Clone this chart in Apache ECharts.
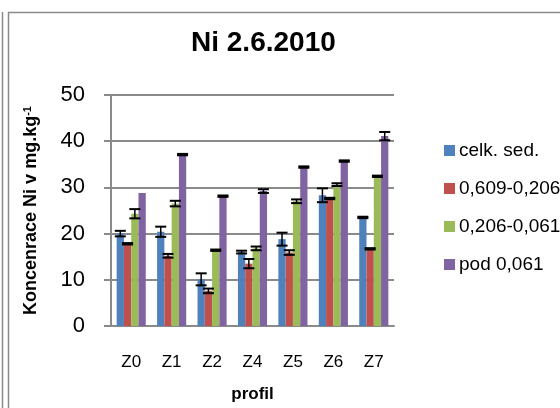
<!DOCTYPE html>
<html>
<head>
<meta charset="utf-8">
<script src="https://cdn.jsdelivr.net/npm/echarts@6/dist/echarts.min.js"></script>
<style>
  html, body { margin: 0; padding: 0; background: #fff; }
  #chart { width: 560px; height: 408px; }
</style>
</head>
<body>
<div id="chart"></div>
<script>
// profily
const categories = ['Z0', 'Z1', 'Z2', 'Z4', 'Z5', 'Z6', 'Z7']
const seriesNames = ['celk. sed.', '0,609-0,206', '0,206-0,061', 'pod 0,061']
const colors = ['#4F81BD', '#C0504D', '#9BBB59', '#8064A2']

// hodnoty Ni (mg/kg)
const celkSed = [20.0, 20.4, 10.1, 16.0, 18.8, 28.3, 23.5]
const frakce1 = [17.8, 15.2, 7.6, 13.5, 15.9, 27.6, 16.7]
const frakce2 = [24.3, 26.5, 16.4, 16.8, 27.0, 30.6, 32.4]
const pod061 = [28.8, 37.1, 28.1, 29.2, 34.4, 35.7, 41.1]

// chybove useky (+/-)
const errCelk = [0.6, 1.1, 1.3, 0.3, 1.4, 1.5, 0.15]
const errFrakce1 = [0.15, 0.4, 0.5, 1.0, 0.5, 0.15, 0.15]
const errFrakce2 = [1.0, 0.6, 0.15, 0.4, 0.4, 0.3, 0.15]
const errPod = [0, 0.15, 0.15, 0.4, 0.15, 0.15, 0.9]

const values = [celkSed, frakce1, frakce2, pod061]
const errors = [errCelk, errFrakce1, errFrakce2, errPod]

const font = 'Liberation Sans, Arial, sans-serif'
const grey = '#8a8a8a'
const catGap = 0.28

let myChart = echarts.init(document.getElementById('chart'))

let series = []
values.forEach((v, s) => {
  series.push({
    name: seriesNames[s],
    type: 'bar',
    data: v,
    barGap: 0,
    barCategoryGap: catGap * 100 + '%',
    itemStyle: { color: colors[s] },
    z: 2
  })
})
// chybove useky jako custom serie
values.forEach((v, s) => {
  series.push({
    type: 'custom',
    silent: true,
    z: 5,
    data: v.map((val, i) => [i, val, errors[s][i]]),
    renderItem: (params, api) => {
      let err = api.value(2)
      if (!err) return null
      let i = api.value(0)
      let val = api.value(1)
      let catW = api.size([1, 0])[0]
      let groupW = catW * (1 - catGap)
      let barW = groupW / 4
      let off = -groupW / 2 + (s + 0.5) * barW
      let hi = api.coord([i, val + err])
      let lo = api.coord([i, val - err])
      let x = hi[0] + off
      let hw = 5.5
      let style = { stroke: '#000', lineWidth: 2 }
      return {
        type: 'group',
        children: [
          { type: 'line', shape: { x1: x, y1: hi[1], x2: x, y2: lo[1] }, style: { stroke: '#000', lineWidth: 1.5 } },
          { type: 'line', shape: { x1: x - hw, y1: hi[1], x2: x + hw, y2: hi[1] }, style: style },
          { type: 'line', shape: { x1: x - hw, y1: lo[1], x2: x + hw, y2: lo[1] }, style: style }
        ]
      }
    }
  })
})

myChart.setOption({
  animation: false,
  backgroundColor: '#fff',
  title: {
    text: 'Ni 2.6.2010',
    left: 186,
    top: 24,
    textStyle: { fontFamily: font, fontSize: 28, fontWeight: 'bold', color: '#000' }
  },
  legend: {
    orient: 'vertical',
    left: 439,
    top: 136,
    itemWidth: 11,
    itemHeight: 11,
    itemGap: 19,
    icon: 'rect',
    data: seriesNames,
    textStyle: { fontFamily: font, fontSize: 19, color: '#000', padding: [0, 0, 0, -1] }
  },
  grid: {
    left: 111,
    right: 166,
    top: 95,
    bottom: 81
  },
  xAxis: {
    type: 'category',
    data: categories,
    name: 'profil',
    nameLocation: 'middle',
    nameGap: 60,
    nameTextStyle: { fontFamily: font, fontSize: 17, fontWeight: 'bold', color: '#000' },
    axisLine: { lineStyle: { color: grey, width: 2 } },
    axisTick: { show: false },
    axisLabel: { margin: 28, fontFamily: font, fontSize: 17, color: '#000' }
  },
  yAxis: {
    type: 'value',
    min: 0,
    max: 50,
    interval: 10,
    name: '{a|Koncenrace Ni v mg.kg}{b|-1}',
    nameLocation: 'middle',
    nameGap: 70,
    nameTextStyle: {
      rich: {
        a: { fontFamily: font, fontSize: 18, fontWeight: 'bold', color: '#000' },
        b: { fontFamily: font, fontSize: 11, fontWeight: 'bold', color: '#000', verticalAlign: 'top', padding: [0, 0, 8, 0] }
      }
    },
    axisLine: { show: true, lineStyle: { color: grey, width: 2 } },
    axisTick: { show: true, length: 7, lineStyle: { color: grey, width: 2 } },
    splitLine: { lineStyle: { color: grey, width: 2 } },
    axisLabel: { margin: 26, fontFamily: font, fontSize: 22, color: '#000' }
  },
  graphic: [
    { type: 'line', shape: { x1: 2.5, y1: 12, x2: 2.5, y2: 408 }, style: { stroke: grey, lineWidth: 1.5 } },
    { type: 'line', shape: { x1: 8.5, y1: 12, x2: 8.5, y2: 408 }, style: { stroke: grey, lineWidth: 1.5 } },
    { type: 'line', shape: { x1: 8, y1: 12.5, x2: 560, y2: 12.5 }, style: { stroke: grey, lineWidth: 1.5 } }
  ],
  series: series
})
</script>
</body>
</html>
